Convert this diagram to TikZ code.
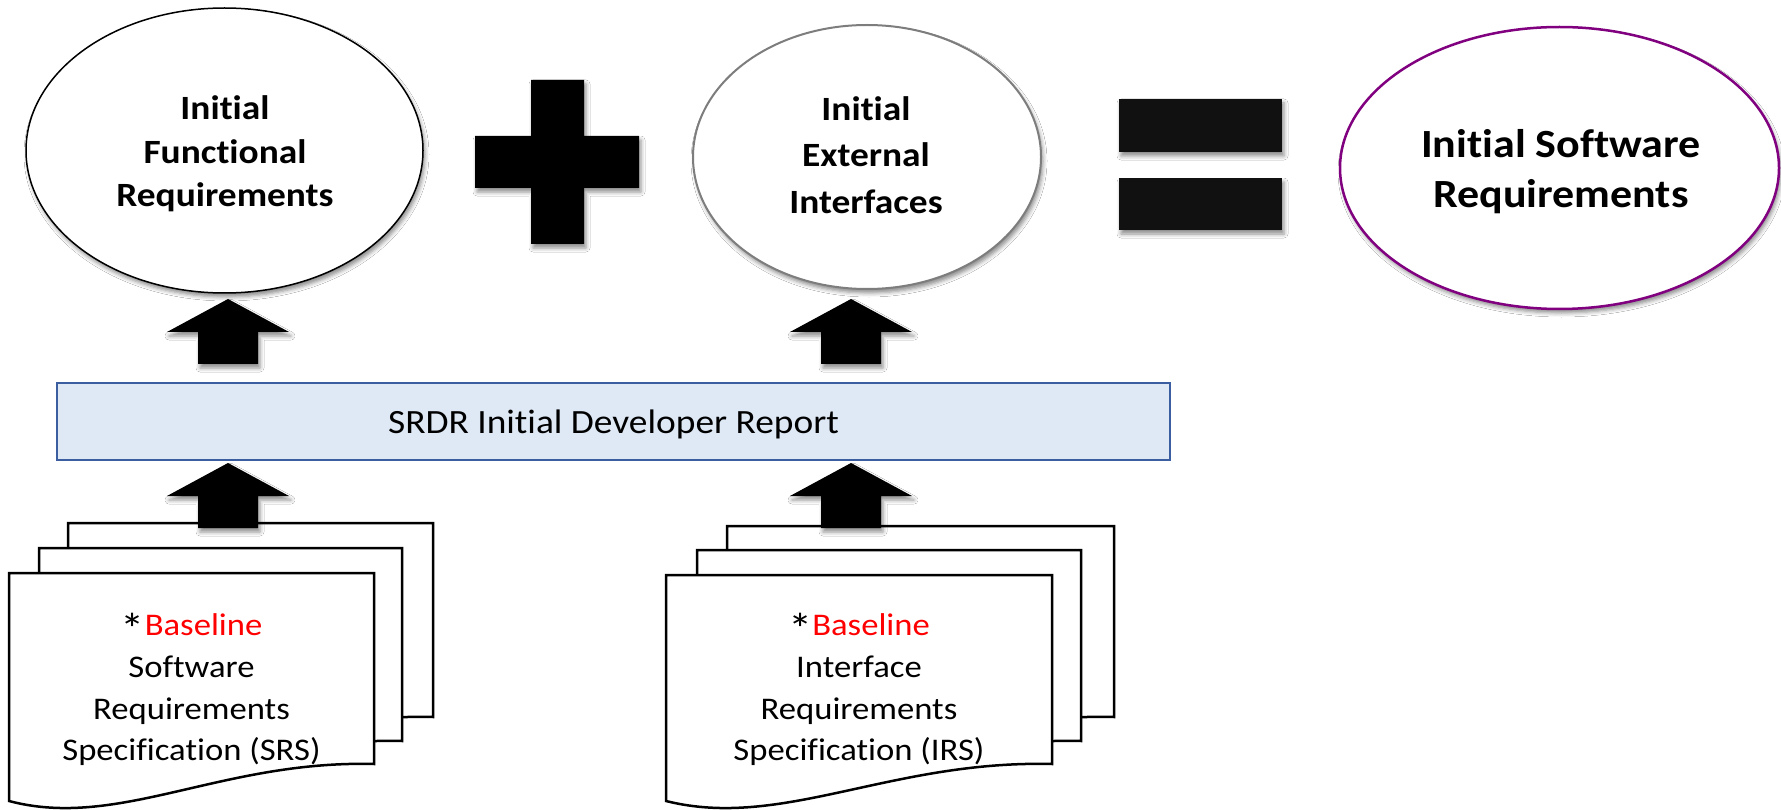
\documentclass[tikz,border=0pt]{standalone}
\usepackage{fontspec}
\setmainfont{Carlito}[FakeStretch=1.1, Ligatures={NoCommon,NoContextual}]
\usetikzlibrary{shapes.geometric,shadows.blur}
\definecolor{boxfill}{RGB}{222,233,245}
\definecolor{boxline}{RGB}{59,94,160}
\definecolor{ringgray}{RGB}{125,125,125}
\definecolor{ringpurple}{RGB}{128,0,128}
\definecolor{barblack}{RGB}{17,17,17}
\definecolor{basered}{RGB}{255,0,0}
\tikzset{
  softshadow/.style={blur shadow={shadow xshift=2pt, shadow yshift=-4pt, shadow blur radius=4pt, shadow opacity=45}},
  ring/.style={ellipse, fill=white, inner sep=0pt, softshadow},
  ringtext/.style={font=\bfseries\fontsize{34}{43.5}\selectfont, align=center, inner sep=0pt},
  bigtext/.style={font=\bfseries\fontsize{40}{50}\selectfont, align=center, inner sep=0pt},
  doctext/.style={font=\fontsize{31.5}{41.7}\selectfont, align=center, inner sep=0pt},
  docline/.style={draw=black, fill=white, line width=2.5pt, line join=miter},
  solidmark/.style={fill=black, softshadow},
}
\newcommand\tiX{t\kern0pt i}
\newcommand\bigstar{\smash{\raisebox{-9pt}{\scalebox{1.4}{*}}}}
\newcommand\docshape[4]{% L R T yR
  \filldraw[docline] (#1,#3) -- (#2,#3) -- (#2,#4)
    .. controls ({#1+0.58*(#2-#1)},{#4-4}) and ({#1+0.30*(#2-#1)},{#4+66}) .. (#1,{#4+37}) -- cycle;}
\newcommand\blockarrowat[2]{% x, tip y
  \fill[solidmark] (#1,#2) -- ({#1+61},{#2+33}) -- ({#1+30},{#2+33}) -- ({#1+30},{#2+65})
    -- ({#1-30},{#2+65}) -- ({#1-30},{#2+33}) -- ({#1-61},{#2+33}) -- cycle;}
\begin{document}
\begin{tikzpicture}[x=1pt,y=-1pt]
\useasboundingbox (0,0) rectangle (1781,810);
\fill[white] (0,0) rectangle (1781,810);

% ellipses
\node[ring, draw=black, line width=1.5pt, minimum width=397pt, minimum height=285pt] (func) at (224.5,150.5) {};
\node[ringtext] (functext) at (225,154) {Ini\tiX al\\Func\tiX onal\\Requirements};

\node[ring, draw=ringgray, line width=2pt, minimum width=348pt, minimum height=264pt] (ext) at (867,157) {};
\node[ringtext, font=\bfseries\fontsize{34}{46.5}\selectfont] (exttext) at (866,155) {Ini\tiX al\\External\\Interfaces};

\node[ring, draw=ringpurple, line width=2.5pt, minimum width=439pt, minimum height=282pt] (soft) at (1559.5,168) {};
\node[bigtext] (softtext) at (1561,172) {Ini\tiX al Software\\Requirements};

% plus
\fill[solidmark] (531,80) -- (584,80) -- (584,136) -- (639,136) -- (639,188) -- (584,188)
  -- (584,244) -- (531,244) -- (531,188) -- (475,188) -- (475,136) -- (531,136) -- cycle;
% equals
\fill[solidmark, fill=barblack] (1119,99) rectangle (1282,152);
\fill[solidmark, fill=barblack] (1119,178) rectangle (1282,230);

% report box
\node[draw=boxline, fill=boxfill, line width=2.5pt, minimum width=1113pt, minimum height=77pt,
  inner sep=0pt, text height=23pt, text depth=0pt, font=\fontsize{34}{40}\selectfont] (srdr) at (613.5,421.5)
  {SRDR Ini\tiX al Developer Report};

% document stacks
\docshape{68}{433}{523}{717}
\docshape{39}{402}{548}{741}
\docshape{9}{374}{573}{764}
\node[doctext] (srs) at (191.5,690) {\bigstar\textcolor{basered}{Baseline}\\Software\\Requirements\\Specifica\tiX on (SRS)};

\docshape{727}{1114}{526}{717}
\docshape{697}{1081}{550}{741}
\docshape{666}{1052}{575}{764}
\node[doctext] (irs) at (859,690) {\bigstar\textcolor{basered}{Baseline}\\Interface\\Requirements\\Specifica\tiX on (IRS)};

% block arrows
\blockarrowat{228}{299}
\blockarrowat{851}{299}
\blockarrowat{228}{463}
\blockarrowat{851}{463}
\end{tikzpicture}
\end{document}
